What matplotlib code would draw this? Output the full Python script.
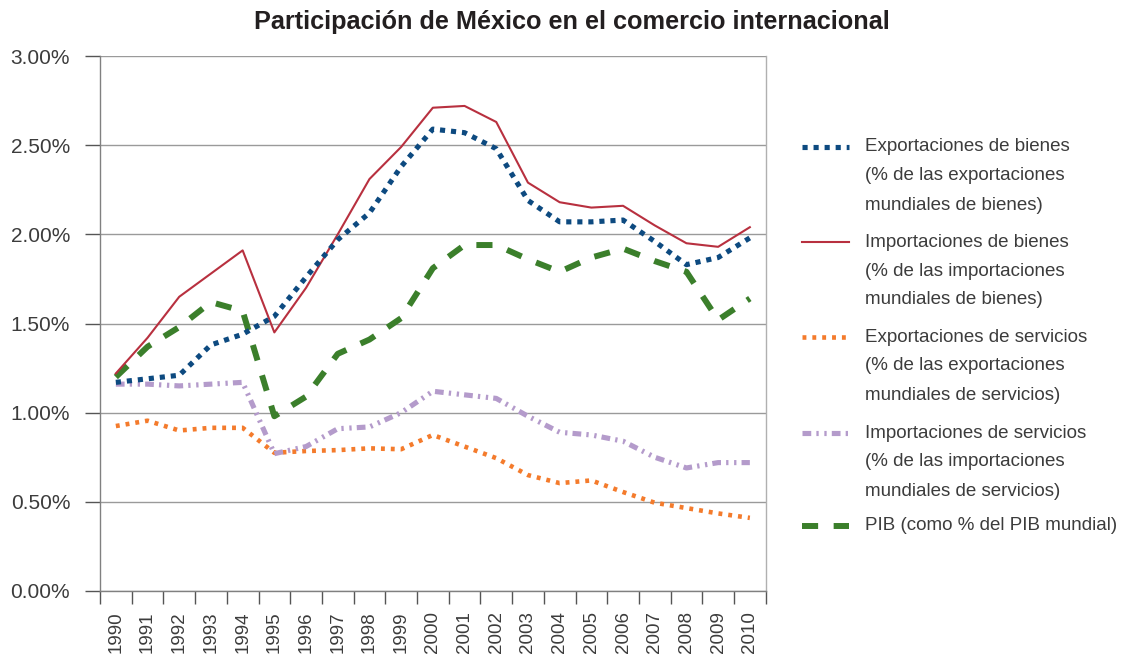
import matplotlib
matplotlib.use("Agg")
import matplotlib.pyplot as plt
from matplotlib.lines import Line2D
import numpy as np

years = [str(y) for y in range(1990, 2011)]

exp_bienes = [1.17, 1.19, 1.21, 1.38, 1.44, 1.54, 1.76, 1.97, 2.12, 2.38, 2.59,
              2.57, 2.48, 2.19, 2.07, 2.07, 2.08, 1.96, 1.83, 1.87, 1.98]
imp_bienes = [1.22, 1.42, 1.65, 1.78, 1.91, 1.45, 1.70, 2.00, 2.31, 2.49, 2.71,
              2.72, 2.63, 2.29, 2.18, 2.15, 2.16, 2.05, 1.95, 1.93, 2.04]
exp_serv = [0.925, 0.955, 0.90, 0.915, 0.915, 0.775, 0.785, 0.79, 0.80, 0.795, 0.875,
            0.81, 0.745, 0.65, 0.605, 0.62, 0.555, 0.495, 0.465, 0.435, 0.41]
imp_serv = [1.16, 1.16, 1.15, 1.16, 1.17, 0.77, 0.81, 0.91, 0.92, 1.00, 1.12,
            1.10, 1.08, 0.98, 0.89, 0.875, 0.84, 0.75, 0.69, 0.72, 0.72]
pib = [1.20, 1.37, 1.48, 1.62, 1.57, 0.98, 1.09, 1.33, 1.41, 1.53, 1.81,
       1.94, 1.94, 1.86, 1.79, 1.87, 1.92, 1.85, 1.79, 1.52, 1.64]

labels = [
    "Exportaciones de bienes\n(% de las exportaciones\nmundiales de bienes)",
    "Importaciones de bienes\n(% de las importaciones\nmundiales de bienes)",
    "Exportaciones de servicios\n(% de las exportaciones\nmundiales de servicios)",
    "Importaciones de servicios\n(% de las importaciones\nmundiales de servicios)",
    "PIB (como % del PIB mundial)",
]
yticks = [0.0, 0.5, 1.0, 1.5, 2.0, 2.5, 3.0]
title = "Participación de México en el comercio internacional"

plt.rcParams['font.family'] = ['Liberation Sans', 'DejaVu Sans']

W, H = 1130, 655
fig = plt.figure(figsize=(W / 100, H / 100), dpi=100)
ax = fig.add_axes([100 / W, 1 - 591 / H, 665.7 / W, 535 / H])

styles = [
    dict(color="#0d4a80", lw=3.7, ls=(0, (1.0, 1.15)), solid_capstyle='butt', dash_capstyle='butt'),
    dict(color="#b8303f", lw=1.5, ls='-'),
    dict(color="#f47b2c", lw=3.3, ls=(0, (0.85, 1.3)), dash_capstyle='butt'),
    dict(color="#b49bcb", lw=3.7, ls=(0, (1.7, 1.0, 0.45, 1.1, 0.45, 1.0)), dash_capstyle='butt'),
    dict(color="#3b7f2b", lw=4.3, ls=(0, (2.7, 2.6)), dash_capstyle='butt'),
]
series = [exp_bienes, imp_bienes, exp_serv, imp_serv, pib]
x = np.arange(len(years))
zorders = [4.5, 4.4, 4.0, 4.1, 4.2]
for i in [4, 3, 2, 1, 0]:
    ax.plot(x, series[i], zorder=zorders[i], **styles[i])

ax.set_xlim(-0.5, len(years) - 0.5)
ax.set_ylim(0, 3.0)
ax.set_yticks(yticks)
ax.set_yticklabels([f"{v:.2f}%" for v in yticks])
ax.set_xticks(x)
ax.set_xticklabels(years, rotation=90, va='top', ha='center')
ax.set_xticks(np.arange(-0.5, len(years)), minor=True)
ax.tick_params(axis='x', which='major', length=0, pad=14.5, labelsize=13.5, labelcolor="#3c3c3c")
ax.tick_params(axis='x', which='minor', length=9, width=1, color="#555555", direction='out')
ax.tick_params(axis='y', which='major', length=11, width=1, color="#555555", direction='out',
               pad=10.5, labelsize=15, labelcolor="#3c3c3c")
ax.grid(axis='y', color="#9a9a9a", lw=1)
ax.set_axisbelow(True)
for s in ['left', 'bottom', 'right']:
    ax.spines[s].set_color("#808080")
    ax.spines[s].set_linewidth(1)
ax.spines['right'].set_color("#b0b0b0")
ax.spines['top'].set_visible(False)

fig.text(572 / W, 1 - 22 / H, title, ha='center', va='center', fontsize=18.2,
         fontweight='bold', color="#231f20")

# legend, drawn manually
first_y = [147, 242, 337, 433, 526]
for i in range(5):
    yy = 1 - first_y[i] / H
    ln = Line2D([802 / W, 849 / W], [yy, yy], transform=fig.transFigure, **styles[i])
    fig.add_artist(ln)
    for k, line in enumerate(labels[i].split("\n")):
        fig.text(865 / W, 1 - (first_y[i] + 29 * k) / H, line, ha='left', va='center',
                 fontsize=13.5, color="#3c3c3c")

fig.savefig("out.png", dpi=100)
